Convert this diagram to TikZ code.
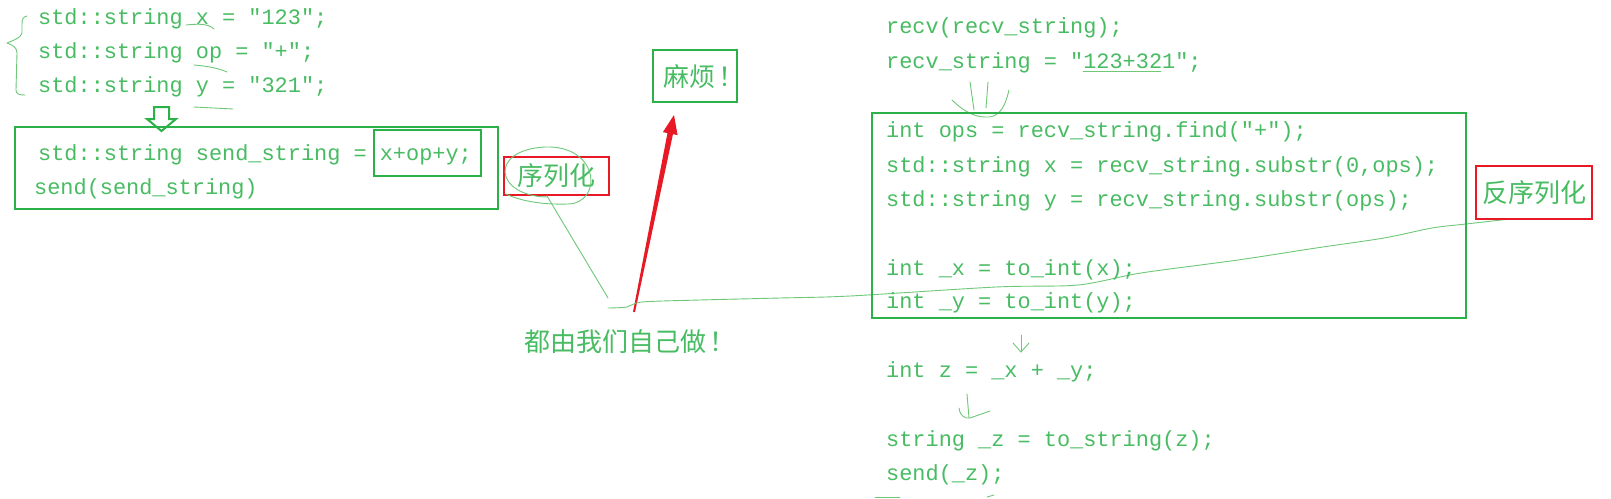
\documentclass[tikz,border=0pt]{standalone}
\usepackage{fontspec}
\newfontfamily\codefont{Liberation Mono}
\newfontfamily\cjk{Noto Sans CJK SC}
\usetikzlibrary{calc}
\definecolor{txtgreen}{RGB}{72,188,98}
\definecolor{boxgreen}{RGB}{44,176,72}
\definecolor{penred}{RGB}{232,24,36}
\definecolor{pengreen}{RGB}{110,200,120}
\begin{document}
\begin{tikzpicture}[x=1pt,y=-1pt,
  code/.style={anchor=base west, inner sep=0pt, text=txtgreen, font=\codefont\fontsize{21.9}{24}\selectfont},
  cjktext/.style={inner sep=0pt, text=txtgreen, font=\cjk\fontsize{26}{30}\selectfont},
  gbox/.style={draw=boxgreen, line width=2.2pt, inner sep=0pt},
  rbox/.style={draw=penred, line width=2.8pt, inner sep=0pt},
  pen/.style={draw=pengreen, line width=0.9pt, line cap=round, line join=round}]
\fill[white] (0,0) rectangle (1611,498);
\useasboundingbox (0,0) rectangle (1611,498);

% ---- left: sender ----
\node[code] (l1) at (38,24) {std::string x = "123";};
\node[code] (l2) at (38,58) {std::string op = "+";};
\node[code] (l3) at (38,92) {std::string y = "321";};
\draw[pen] (27,16) .. controls (23,17) and (22,19) .. (22,24) -- (22,33) .. controls (21,38) and (12,41) .. (7,43) .. controls (12,45) and (17,47) .. (17,53) -- (16,90) .. controls (16,94) and (19,95) .. (25,95);
\draw[pen] (186,25) .. controls (196,24) and (208,23) .. (214,29);
\draw[pen] (194,65) .. controls (206,66) and (218,68) .. (227,72);
\draw[pen] (194,107) -- (233,109);

\node[gbox, minimum width=483, minimum height=82] (sendbox) at (256.5,168) {};
\node[gbox, minimum width=107, minimum height=46] (catbox) at (427.5,153) {};
\node[code] (l4) at (38,160) {std::string send\_string = x+op+y;};
\node[code] (l5) at (34,194) {send(send\_string)};
\draw[boxgreen, line width=2pt, line join=miter] (154,107) -- (169,107) -- (169,119) -- (176,119) -- (161.5,131) -- (147,119) -- (154,119) -- cycle;

\node[rbox, cjktext, minimum width=105, minimum height=38] (ser) at (556.5,176) {序列化};
\draw[pen] (547,197) .. controls (495,196) and (488,150) .. (545,147) .. controls (600,145) and (603,203) .. (568,204) .. controls (540,205) and (518,200) .. (506,194);
\coordinate (serend) at (547,196);
\coordinate (joinA) at (608,298);
\draw[pen] (serend) -- (joinA);

% ---- middle ----
\node[gbox, minimum width=84, minimum height=52] (mafan) at (695,76) {};
\node[cjktext] (mafantext) at (704,77) {麻烦\hspace{4pt}！};
\node[cjktext] (diy) at (630,342) {都由我们自己做\hspace{3pt}！};
\coordinate (at) at (634,312);
\coordinate (ah) at (674,115);
\coordinate (hb) at ($(ah)!19pt!(at)$);
\fill[penred] ($(at)!1pt!90:(ah)$) -- ($(hb)!2.8pt!90:(ah)$) -- ($(hb)!7.5pt!90:(ah)$) -- (ah) -- ($(hb)!7.5pt!-90:(ah)$) -- ($(hb)!2.8pt!-90:(ah)$) -- ($(at)!1pt!-90:(ah)$) -- cycle;

\draw[pen] plot[smooth, tension=0.5] coordinates {(608,308) (627,307) (642,302) (700,300) (780,298) (850,296) (996,287) (1078,285) (1141,273) (1238,260) (1316,248) (1384,238) (1432,228) (1466,224) (1510,219)};

% ---- right: receiver ----
\node[code] (r1) at (886,33) {recv(recv\_string);};
\node[code] (r2) at (886,68) {recv\_string = "123+321";};
\draw[pen] (1083,71) -- (1161,71);
\draw[pen] (970,82) -- (974,110);
\draw[pen] (988,82) -- (986,108);
\draw[pen] (1009,90) .. controls (1004,112) and (996,118) .. (985,117) .. controls (972,117) and (960,108) .. (952,100);

\node[gbox, minimum width=594, minimum height=205] (desbox) at (1169,215.5) {};
\node[code] (r3) at (886,137) {int ops = recv\_string.find("+");};
\node[code] (r4) at (886,172) {std::string x = recv\_string.substr(0,ops);};
\node[code] (r5) at (886,206) {std::string y = recv\_string.substr(ops);};
\node[code] (r6) at (886,275) {int \_x = to\_int(x);};
\node[code] (r7) at (886,308) {int \_y = to\_int(y);};
\node[rbox, cjktext, minimum width=116, minimum height=53] (deser) at (1534,192.5) {反序列化};

\draw[pen] (1021,335) -- (1021,352);
\draw[pen] (1013,343) -- (1021,352) -- (1029,343);
\node[code] (r8) at (886,377) {int z = \_x + \_y;};
\draw[pen] (967,394) -- (969,418);
\draw[pen] (959,408) .. controls (960,416) and (965,419) .. (970,418) -- (990,411);
\node[code] (r9) at (886,446) {string \_z = to\_string(z);};
\node[code] (r10) at (886,480) {send(\_z);};
\draw[pen] (875,497) -- (900,497);
\draw[pen] (987,497) -- (994,495);
\end{tikzpicture}
\end{document}
